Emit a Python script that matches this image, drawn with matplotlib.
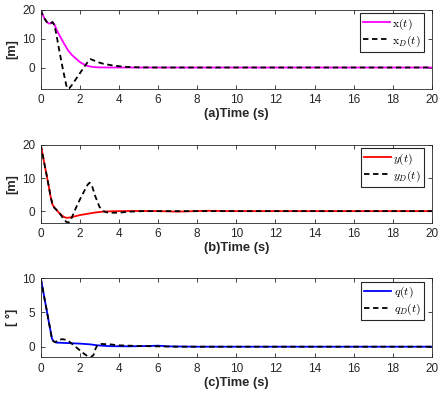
import matplotlib
matplotlib.use("Agg")
import matplotlib.pyplot as plt
import numpy as np

plt.rcParams['font.family'] = ['Liberation Sans', 'DejaVu Sans']
plt.rcParams['mathtext.fontset'] = 'cm'

# (a) x position
t_x = [0, 0.1, 0.2, 0.3, 0.4, 0.5, 0.6, 0.7, 0.8, 0.9, 1.0, 1.1, 1.2, 1.4, 1.6, 1.8,
       2.0, 2.2, 2.4, 2.6, 2.8, 3.0, 3.5, 20]
x = [20, 18.3, 16.9, 15.9, 15.3, 15.3, 15.8, 14.9, 13.3, 11.9, 10.6, 9.4, 8.2, 5.9, 4.3, 3.1,
     1.9, 1.1, 0.55, 0.25, 0.1, 0.04, 0, 0]
t_xd = [0, 0.1, 0.2, 0.3, 0.4, 0.5, 0.6, 0.7, 0.8, 0.9, 1.0, 1.1, 1.2, 1.3, 1.35, 1.45, 1.6,
        1.8, 2.0, 2.2, 2.4, 2.55, 2.7, 2.9, 3.2, 3.6, 4.0, 4.4, 5.0, 6.0, 20]
xd = [20, 18.3, 16.9, 15.9, 15.3, 15.3, 15.8, 14.6, 11.5, 7.6, 4.0, 0.5, -2.8, -6.0, -7.3, -7.3, -6.0,
      -4.0, -2.0, 0.0, 1.9, 2.9, 2.5, 1.9, 1.3, 0.8, 0.45, 0.2, 0.05, 0, 0]

# (b) y position
t_y = [0, 0.1, 0.2, 0.3, 0.4, 0.5, 0.6, 0.7, 0.8, 0.9, 1.0, 1.1, 1.2, 1.3, 1.4, 1.6, 1.8,
       2.0, 2.4, 2.8, 3.2, 3.6, 4.0, 5.0, 6.0, 7.0, 8.5, 10, 20]
y = [20, 17, 13.9, 10.9, 7.8, 4.5, 2.0, 1.0, 0.4, -0.3, -0.9, -1.4, -1.8, -2.0, -2.0, -1.8, -1.5,
     -1.2, -0.8, -0.4, -0.15, -0.05, 0, 0.05, 0.0, -0.15, 0.1, 0, 0]
t_yd = [0, 0.1, 0.2, 0.3, 0.4, 0.5, 0.6, 0.7, 0.8, 0.9, 1.0, 1.1, 1.2, 1.3, 1.4, 1.5, 1.6,
        1.8, 2.0, 2.2, 2.4, 2.5, 2.6, 2.8, 3.0, 3.2, 3.4, 3.7, 4.1, 4.6, 5.2, 20]
yd = [20, 17, 13.9, 10.9, 7.8, 4.5, 2.0, 1.0, 0.4, -0.3, -0.9, -1.8, -2.6, -3.2, -3.5, -3.0, -1.8,
      1.0, 3.5, 5.8, 8.0, 8.6, 8.0, 4.3, 1.3, 0.0, -0.4, -0.5, -0.4, -0.15, 0, 0]

# (c) attitude
t_q = [0, 0.1, 0.2, 0.3, 0.4, 0.5, 0.57, 0.65, 0.8, 1.2, 2.0, 2.5, 2.9, 3.5, 4.5, 5.5, 6.0,
       6.5, 8.0, 20]
q = [10, 8.5, 6.9, 5.4, 3.8, 2.3, 1.2, 0.8, 0.6, 0.55, 0.45, 0.35, 0.2, 0.08, 0.05, 0.1, 0.15,
     0.05, 0, 0]
t_qd = [0, 0.1, 0.2, 0.3, 0.4, 0.5, 0.57, 0.65, 0.75, 0.9, 1.1, 1.3, 1.45, 1.7, 1.9, 2.2, 2.4,
        2.55, 2.7, 2.8, 2.9, 3.1, 3.5, 4.0, 5.0, 6.0, 7.0, 20]
qd = [10, 8.5, 6.9, 5.4, 3.8, 2.3, 1.2, 0.8, 0.65, 1.0, 1.1, 1.0, 0.75, 0.2, -0.3, -1.0, -1.4,
      -1.55, -1.2, -0.3, 0.25, 0.4, 0.35, 0.2, 0.1, 0.05, 0, 0]

panels = [
    (t_x, x, t_xd, xd, '#FF00FF', r'$\mathrm{x}(t)$', r'$\mathrm{x}_D(t)$',
     '[m]', '(a)Time (s)', (-7.3, 20), [0, 10, 20]),
    (t_y, y, t_yd, yd, '#FF0000', r'$y(t)$', r'$y_D(t)$',
     '[m]', '(b)Time (s)', (-3.5, 20), [0, 10, 20]),
    (t_q, q, t_qd, qd, '#0000FF', r'$q(t)$', r'$q_D(t)$',
     '[ °]', '(c)Time (s)', (-1.55, 10), [0, 5, 10]),
]

fig = plt.figure(figsize=(4.43, 3.97), dpi=100)
boxes = [[0.092, 0.777, 0.883, 0.198],
         [0.092, 0.439, 0.883, 0.196],
         [0.092, 0.100, 0.883, 0.199]]
dark = '#262626'

for box, (ts, s, td, sd, col, lab, labd, ylab, xlab, ylim, yt) in zip(boxes, panels):
    ax = fig.add_axes(box)
    ax.plot(ts, s, color=col, lw=1.3, label=lab)
    ax.plot(td, sd, '--', color='black', lw=1.3, dashes=(3, 2), label=labd)
    ax.set_xlim(0, 20)
    ax.set_ylim(*ylim)
    ax.set_xticks(np.arange(0, 21, 2))
    ax.set_yticks(yt)
    ax.tick_params(direction='in', top=True, right=True, length=3, width=0.6,
                   labelsize=8.5, colors=dark, pad=4)
    for sp in ax.spines.values():
        sp.set_color(dark)
        sp.set_linewidth(0.6)
    ax.set_xlabel(xlab, fontsize=9.3, fontweight='bold', color=dark, labelpad=1.5)
    ax.set_ylabel(ylab, fontsize=9.3, fontweight='bold', color=dark, labelpad=3)
    leg = ax.legend(loc='upper right', bbox_to_anchor=(0.985, 0.985), fontsize=8.5,
                    fancybox=False, framealpha=1, edgecolor=dark, borderpad=0.25,
                    labelspacing=0.15, handlelength=2.3, handletextpad=0.2,
                    borderaxespad=0.2)
    leg.get_frame().set_linewidth(0.8)

fig.savefig('out.png', dpi=100)
